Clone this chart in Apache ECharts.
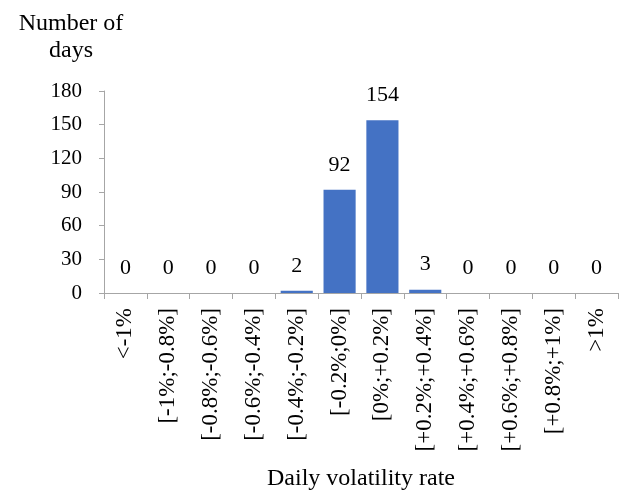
<!DOCTYPE html>
<html lang="en">
  <head>
    <meta charset="UTF-8" />
    <title>Daily volatility rate</title>
    <script src="https://cdn.jsdelivr.net/npm/echarts@6/dist/echarts.min.js"></script>
  </head>
  <body style="margin:0">
    <style>
      #chart {
        width: 621px;
        height: 492px;
      }
    </style>
    <div id="chart"></div>

    <script>
      const categories = [
        '<-1%', '[-1%;-0.8%]', '[-0.8%;-0.6%]', '[-0.6%;-0.4%]',
        '[-0.4%;-0.2%]', '[-0.2%;0%]', '[0%;+0.2%]', '[+0.2%;+0.4%]',
        '[+0.4%;+0.6%]', '[+0.6%;+0.8%]', '[+0.8%;+1%]', '>1%'
      ];
      const days = [0, 0, 0, 0, 2, 92, 154, 3, 0, 0, 0, 0];
      const yTicks = { min: 0, max: 180, interval: 30 };

      const font = '"Liberation Serif", "Times New Roman", serif';
      const axisGrey = '#a6a6a6';

      const chart = echarts.init(document.getElementById('chart'));

      chart.setOption({
        animation: false,
        textStyle: { fontFamily: font, color: '#000' },
        title: {
          text: 'Number of\ndays',
          left: 66,
          top: 5,
          textAlign: 'center',
          textStyle: {
            fontFamily: font,
            fontWeight: 'normal',
            fontSize: 24,
            lineHeight: 27,
            color: '#000'
          }
        },
        grid: {
          left: 104, right: 3, top: 91, bottom: 199,
          outerBoundsMode: 'none'
        },
        xAxis: {
          type: 'category',
          data: categories,
          name: 'Daily volatility rate',
          nameLocation: 'middle',
          nameGap: 174,
          nameTextStyle: { fontFamily: font, fontSize: 24, color: '#000' },
          axisLine: { lineStyle: { color: axisGrey, width: 1 } },
          axisTick: { show: true, length: 6, lineStyle: { color: axisGrey } },
          axisLabel: {
            rotate: 90,
            interval: 0,
            margin: 15,
            fontFamily: font,
            fontSize: 23,
            color: '#000'
          }
        },
        yAxis: {
          type: 'value',
          min: yTicks.min,
          max: yTicks.max,
          interval: yTicks.interval,
          splitLine: { show: false },
          axisLine: { show: true, lineStyle: { color: axisGrey, width: 1 } },
          axisTick: { show: true, length: 5, lineStyle: { color: axisGrey } },
          axisLabel: {
            margin: 22,
            fontFamily: font,
            fontSize: 21,
            color: '#000'
          }
        },
        series: [
          {
            type: 'bar',
            data: days,
            barCategoryGap: '25%',
            itemStyle: { color: '#4472c4' },
            label: {
              show: true,
              position: 'top',
              distance: 14,
              fontFamily: font,
              fontSize: 22,
              color: '#000'
            }
          }
        ]
      });
    </script>
  </body>
</html>
